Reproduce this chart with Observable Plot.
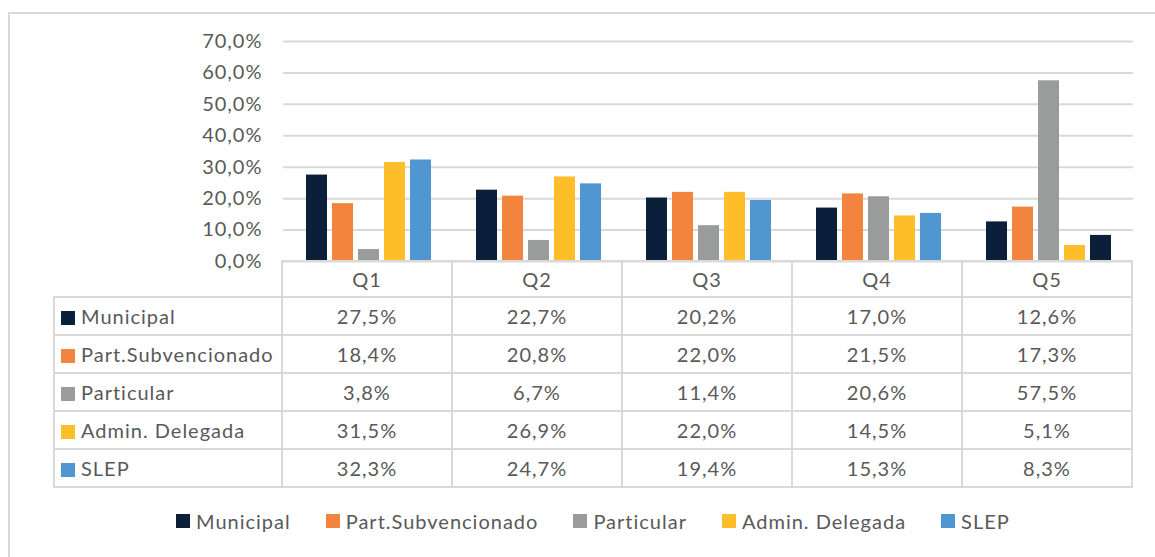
<!DOCTYPE html>
<html>
<head>
<meta charset="utf-8">
<script src="https://cdn.jsdelivr.net/npm/d3@7"></script>
<script src="https://cdn.jsdelivr.net/npm/@observablehq/plot@0.6"></script>
<style>
  html, body { margin: 0; padding: 0; background: #fff; }
  body { width: 1155px; height: 557px; position: relative; overflow: hidden; font-family: "Lato", "Open Sans", sans-serif; color: #595959; }
  #frame { position: absolute; left: 8px; top: 12px; width: 1200px; height: 600px; border: 2px solid #d9d9d9; box-sizing: border-box; }
  #chart { position: absolute; left: 0; top: 0; }
  #table { position: absolute; left: 53px; top: 260px; border-collapse: collapse; table-layout: fixed; width: 1078px; font-size: 20px; letter-spacing: 1px; color: #595959; }
  #table td { border: 2px solid #d9d9d9; text-align: center; padding: 0; height: 36px; overflow: hidden; }
  #table td.lab { text-align: left; padding-left: 6px; white-space: nowrap; }
  #table td.blank { border: none; }
  #table tr.head td { height: 34px; }
  .sw { display: inline-block; width: 14px; height: 14px; margin-right: 6px; vertical-align: -1px; }
  #legend { position: absolute; top: 509px; left: 176px; display: flex; font-size: 20px; letter-spacing: 1px; color: #595959; white-space: nowrap; }
  #legend .item { margin-right: 35px; display: flex; align-items: center; }
</style>
</head>
<body>
<div id="frame"></div>
<div id="chart"></div>
<table id="table"></table>
<div id="legend"></div>
<script>
const quarters = ["Q1", "Q2", "Q3", "Q4", "Q5"];
const series = ["Municipal", "Part.Subvencionado", "Particular", "Admin. Delegada", "SLEP"];
const municipal = [27.5, 22.7, 20.2, 17.0, 12.6];
const partSubvencionado = [18.4, 20.8, 22.0, 21.5, 17.3];
const particular = [3.8, 6.7, 11.4, 20.6, 57.5];
const adminDelegada = [31.5, 26.9, 22.0, 14.5, 5.1];
const slep = [32.3, 24.7, 19.4, 15.3, 8.3];
const yTicks = [0, 10, 20, 30, 40, 50, 60, 70];

const colors = ["#0c1f3a", "#f2843d", "#9a9c9c", "#fdbe29", "#5097d2"];
const valuesBySeries = [municipal, partSubvencionado, particular, adminDelegada, slep];

const data = [];
series.forEach((s, si) => {
  quarters.forEach((q, qi) => data.push({ q, s, v: valuesBySeries[si][qi] }));
});

const fmt = v => v.toFixed(1).replace(".", ",") + "%";
const colorOf = s => colors[series.indexOf(s)];
// In the reference, the Q5 SLEP bar is drawn in the Municipal navy
const barFill = d => (d.q === "Q5" && d.s === "SLEP") ? colors[0] : colorOf(d.s);

const chart = Plot.plot({
  width: 1155,
  height: 265,
  marginLeft: 283,
  marginRight: 22,
  marginTop: 41,
  marginBottom: 4,
  style: { fontFamily: "Lato, 'Open Sans', sans-serif", fontSize: "20px", letterSpacing: "1px", color: "#595959", background: "transparent", overflow: "visible" },
  fx: { domain: quarters, padding: 0, axis: null, label: null },
  x: { domain: series, paddingInner: 0.2, paddingOuter: 0.85, axis: null, label: null },
  y: { domain: [0, 70], label: null },
  marks: [
    Plot.gridY(yTicks, { stroke: "#d9d9d9", strokeOpacity: 1, strokeWidth: 2 }),
    Plot.barY(data, { fx: "q", x: "s", y: "v", fill: barFill }),
    Plot.axisY(yTicks, { tickSize: 0, tickPadding: 21, tickFormat: fmt, fill: "#595959", fontSize: 20, label: null })
  ]
});
document.getElementById("chart").appendChild(chart);

// data table
const table = document.getElementById("table");
let html = '<colgroup><col style="width:228px">' + quarters.map(() => '<col style="width:170px">').join("") + "</colgroup>";
html += '<tr class="head"><td class="blank"></td>' + quarters.map(q => `<td>${q}</td>`).join("") + "</tr>";
series.forEach((s, si) => {
  html += `<tr><td class="lab"><span class="sw" style="background:${colors[si]}"></span>${s}</td>` +
    valuesBySeries[si].map(v => `<td>${fmt(v)}</td>`).join("") + "</tr>";
});
table.innerHTML = html;

// legend
document.getElementById("legend").innerHTML = series.map((s, si) =>
  `<div class="item"><span class="sw" style="background:${colors[si]}"></span>${s}</div>`).join("");
</script>
</body>
</html>
